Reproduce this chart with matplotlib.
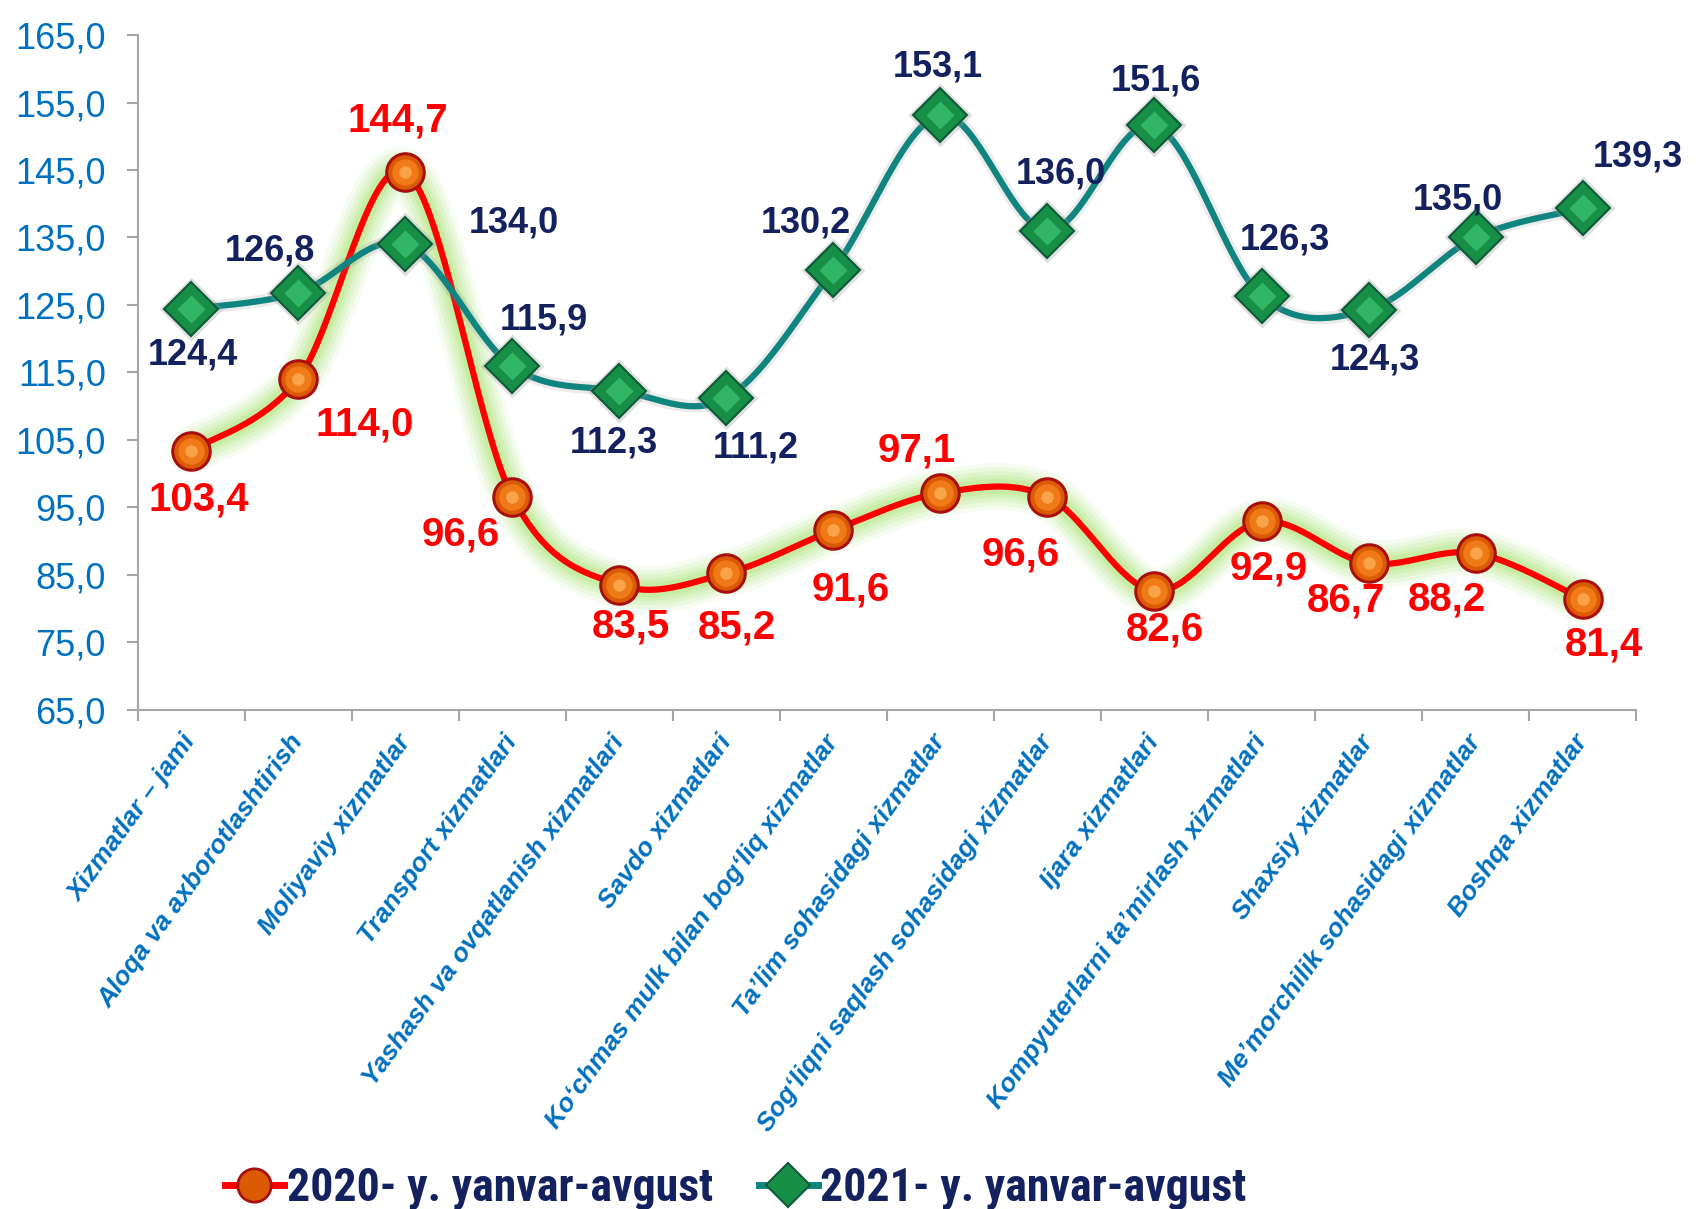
import numpy as np
import matplotlib
matplotlib.use("Agg")
import matplotlib.pyplot as plt
from matplotlib.lines import Line2D
from matplotlib import font_manager as fm

# ---------------- data ----------------
categories = [
    "Xizmatlar – jami",
    "Aloqa va axborotlashtirish",
    "Moliyaviy xizmatlar",
    "Transport xizmatlari",
    "Yashash va ovqatlanish xizmatlari",
    "Savdo xizmatlari",
    "Ko‘chmas mulk bilan bog‘liq xizmatlar",
    "Ta’lim sohasidagi xizmatlar",
    "Sog‘liqni saqlash sohasidagi xizmatlar",
    "Ijara xizmatlari",
    "Kompyuterlarni ta’mirlash xizmatlari",
    "Shaxsiy xizmatlar",
    "Me’morchilik sohasidagi xizmatlar",
    "Boshqa xizmatlar",
]
values_2020 = [103.4, 114.0, 144.7, 96.6, 83.5, 85.2, 91.6, 97.1, 96.6, 82.6, 92.9, 86.7, 88.2, 81.4]
values_2021 = [124.4, 126.8, 134.0, 115.9, 112.3, 111.2, 130.2, 153.1, 136.0, 151.6, 126.3, 124.3, 135.0, 139.3]
series_names = ["2020- y. yanvar-avgust", "2021- y. yanvar-avgust"]
y_ticks = [65, 75, 85, 95, 105, 115, 125, 135, 145, 155, 165]

# label offsets (points) -- layout only
off_2020 = [(5.5, -35), (48, -33), (-5, 37), (-37, -27), (8.6, -30), (7.8, -39), (12.5, -43),
            (-17, 31), (-19.5, -42), (7.8, -28), (5.5, -34), (-16, -27), (-21, -33), (15, -33)]
off_2021 = [(1.6, -33), (-20, 30), (78, 15), (23, 33.5), (-4, -38), (21, -36), (-19.5, 33.5),
            (-1.6, 35), (9.4, 40.6), (0.8, 32), (17, 40.6), (4.7, -36), (-13, 27), (40, 37)]

# ---------------- fonts ----------------
def has_font(name):
    try:
        fm.findfont(fm.FontProperties(family=name), fallback_to_default=False)
        return True
    except Exception:
        return False

base_font = "Liberation Sans" if has_font("Liberation Sans") else "DejaVu Sans"
plt.rcParams["font.family"] = [base_font, "DejaVu Sans"]

# look for a condensed bold face for the legend
narrow_file = None
for pref in ["liberationsansnarrow-bold", "robotocondensed-bold", "dejavusanscondensed-bold",
             "opensans_condensed-bold", "opensanscondensed-bold", "notosans-condensedbold",
             "notosanscondensed-bold"]:
    for f in fm.fontManager.ttflist:
        key = f.fname.lower().replace(" ", "").split("/")[-1]
        if key.startswith(pref) and "italic" not in key and "oblique" not in key:
            narrow_file = f.fname
            break
    if narrow_file:
        break
if narrow_file:
    legend_prop = fm.FontProperties(fname=narrow_file, size=33)
else:
    legend_prop = fm.FontProperties(family=[base_font, "DejaVu Sans"], weight="bold", size=29)

RED = "#FF0000"
TEAL = "#10847F"
NAVY = "#14215F"
BLUE = "#0070C0"
GRAY = "#A6A6A6"


def smooth(xv, yv, n=40):
    pts = np.column_stack([xv, yv]).astype(float)
    P = np.vstack([pts[0], pts, pts[-1]])
    t = np.linspace(0, 1, n)[:, None]
    out = []
    for i in range(len(pts) - 1):
        p0, p1, p2, p3 = P[i], P[i + 1], P[i + 2], P[i + 3]
        c1 = p1 + (p2 - p0) / 6.0
        c2 = p2 - (p3 - p1) / 6.0
        seg = ((1 - t) ** 3) * p1 + 3 * ((1 - t) ** 2) * t * c1 + 3 * (1 - t) * t ** 2 * c2 + t ** 3 * p2
        out.append(seg if i == 0 else seg[1:])
    c = np.vstack(out)
    return c[:, 0], c[:, 1]


fig = plt.figure(figsize=(16.99, 12.09), dpi=100, facecolor="white")
ax = fig.add_axes([0.081, 0.413, 0.882, 0.558])

x = np.arange(len(categories))

# 2020 series: glow + line + glossy circles
sx, sy = smooth(x, values_2020)
for lw, a in [(34, 0.12), (28, 0.18), (22, 0.25), (16, 0.35), (11, 0.5)]:
    ax.plot(sx, sy, color="#BDEB94", lw=lw, alpha=a, solid_capstyle="round", zorder=1)
ax.plot(sx, sy, color=RED, lw=4.5, solid_capstyle="round", zorder=3)
ax.plot(x, values_2020, ls="none", marker="o", ms=27, mfc="#DD5A05", mec="#A81010", mew=2.2, zorder=4)
ax.plot(x, values_2020, ls="none", marker="o", ms=19, mfc="#F27E1A", mec="none", alpha=0.9, zorder=4.1)
ax.plot(x, values_2020, ls="none", marker="o", ms=9, mfc="#FFB55E", mec="none", alpha=0.7, zorder=4.2)

# 2021 series: shadow + line + glossy diamonds
tx, ty = smooth(x, values_2021)
ax.plot(tx, ty, color="#808080", lw=9, alpha=0.15, zorder=4.5)
ax.plot(tx, ty, color=TEAL, lw=4.5, solid_capstyle="round", zorder=5)
ax.plot(x, values_2021, ls="none", marker="D", ms=33, mfc="#9A9A9A", mec="none", alpha=0.3, zorder=5.5)
ax.plot(x, values_2021, ls="none", marker="D", ms=27, mfc="#178F47", mec="#0B5A36", mew=1.5, zorder=6)
ax.plot(x, values_2021, ls="none", marker="D", ms=14, mfc="#38C06E", mec="none", alpha=0.8, zorder=6.1)

# data labels
for xi, v, (dx, dy) in zip(x, values_2020, off_2020):
    ax.annotate(f"{v:.1f}".replace(".", ","), (xi, v), xytext=(dx, dy), textcoords="offset points",
                ha="center", va="center", color=RED, fontsize=29, fontweight="bold", zorder=10,
                annotation_clip=False)
for xi, v, (dx, dy) in zip(x, values_2021, off_2021):
    ax.annotate(f"{v:.1f}".replace(".", ","), (xi, v), xytext=(dx, dy), textcoords="offset points",
                ha="center", va="center", color=NAVY, fontsize=26, fontweight="bold", zorder=10,
                annotation_clip=False)

# axes
ax.set_xlim(-0.5, len(categories) - 0.5)
ax.set_ylim(65, 165)
ax.set_yticks(y_ticks)
ax.set_yticklabels([f"{t:.1f}".replace(".", ",") for t in y_ticks], color=BLUE, fontsize=26)
ax.tick_params(axis="y", length=8, width=1.5, color=GRAY, pad=15)
ax.set_xticks(x)
ax.set_xticklabels(categories, rotation=54, ha="right", va="center", rotation_mode="anchor",
                   color=BLUE, fontsize=19, fontweight="bold", fontstyle="italic")
ax.tick_params(axis="x", which="major", length=0, pad=20)
ax.set_xticks(np.arange(-0.5, len(categories)), minor=True)
ax.tick_params(axis="x", which="minor", length=8, width=1.5, color=GRAY)
for s in ["top", "right"]:
    ax.spines[s].set_visible(False)
for s in ["left", "bottom"]:
    ax.spines[s].set_color(GRAY)
    ax.spines[s].set_linewidth(1.5)

# legend
h1 = Line2D([], [], color=RED, lw=5, marker="o", ms=24, mfc="#DD5A05", mec="#A81010", mew=2)
h2 = Line2D([], [], color=TEAL, lw=5, marker="D", ms=22, mfc="#178F47", mec="#0B5A36", mew=1.5)
leg = fig.legend([h1, h2], series_names, loc="center", bbox_to_anchor=(0.433, 0.017), ncol=2,
                 frameon=False, handlelength=1.3, handletextpad=0.05, columnspacing=1.0,
                 prop=legend_prop)
for t in leg.get_texts():
    t.set_color(NAVY)

fig.savefig("out.png", dpi=100, facecolor="white")
